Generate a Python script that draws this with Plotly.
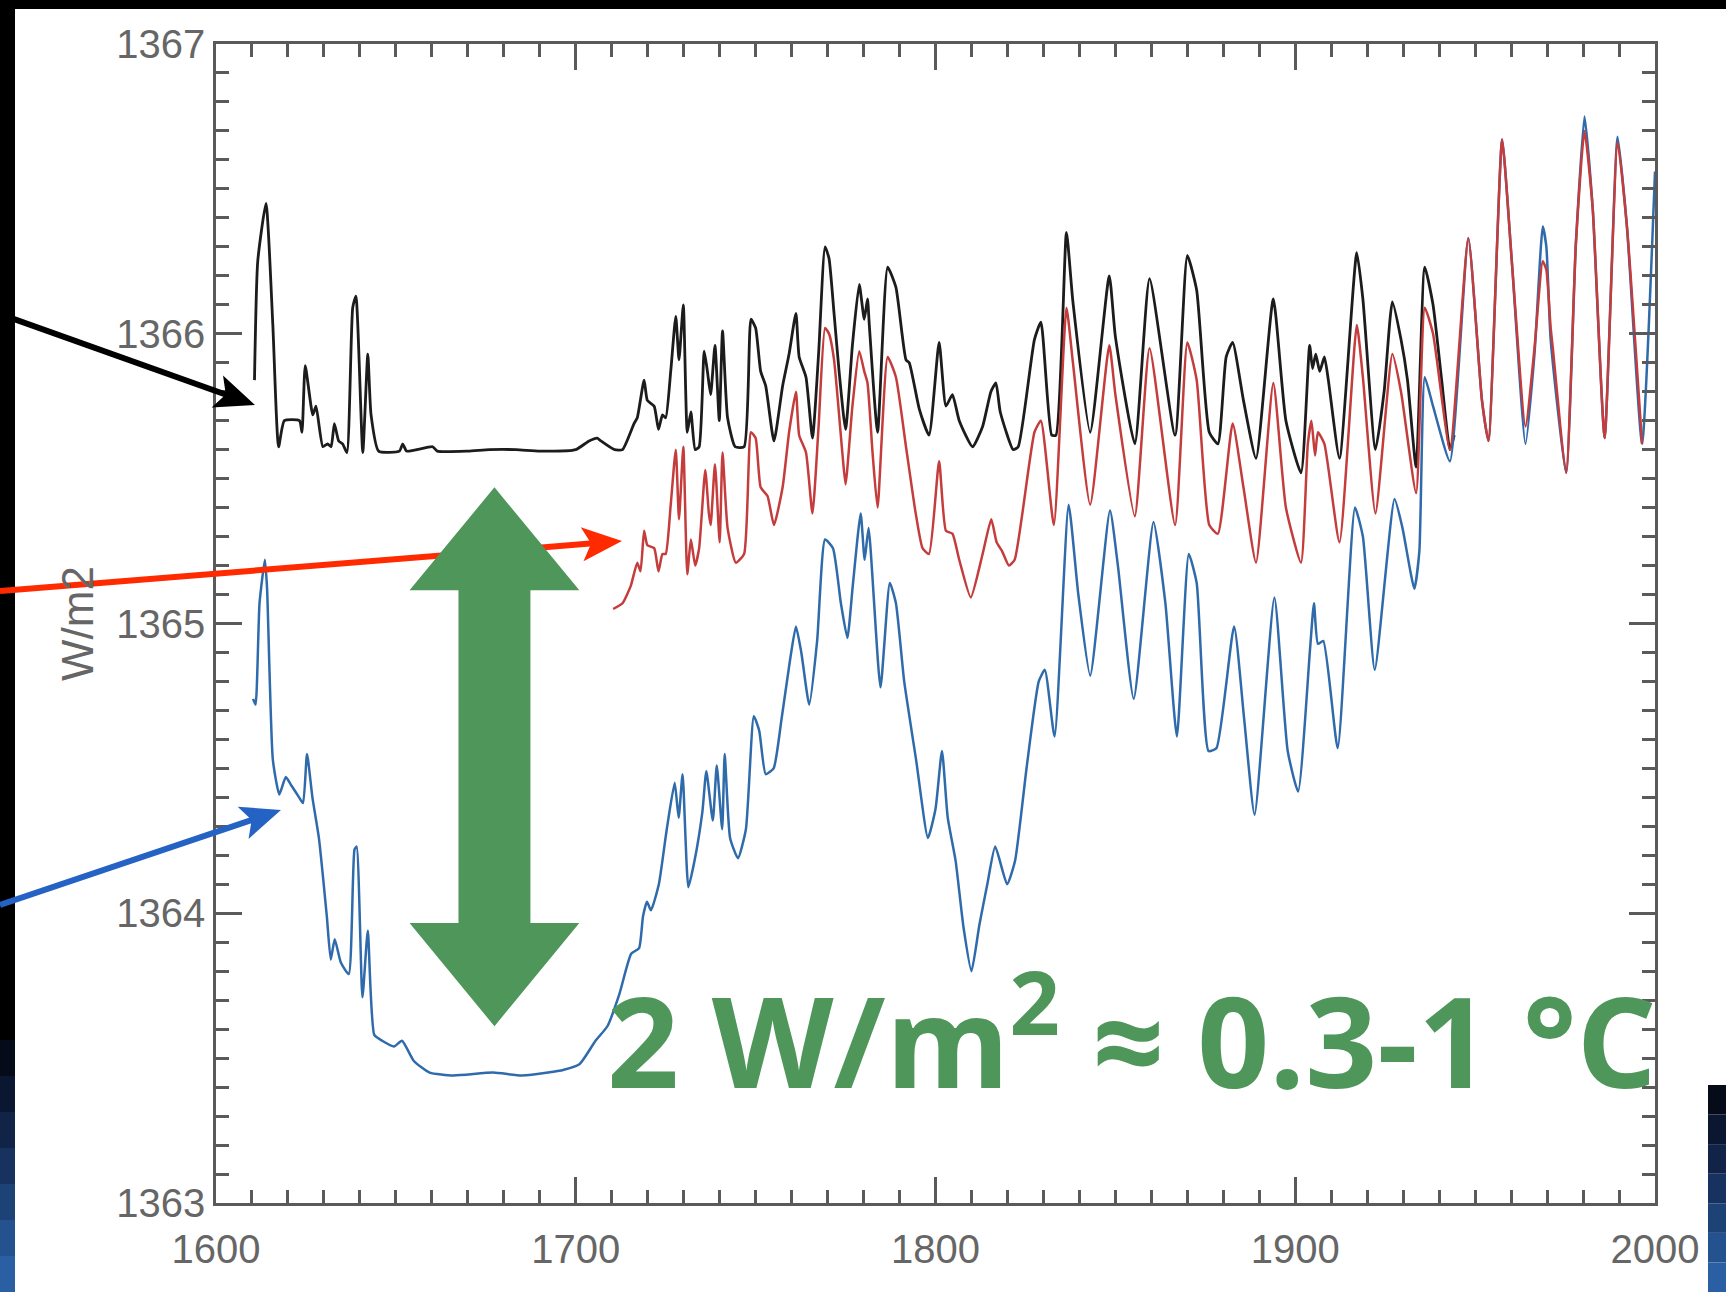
import math
import plotly.graph_objects as go

# ---------------- data ----------------
black_years = [1610.7, 1611.6, 1613.9, 1615.8, 1617.4, 1619.0, 1623.2, 1623.9, 1624.8, 1626.9,
               1627.8, 1629.7, 1631.0, 1632.0, 1632.9, 1634.1, 1635.2, 1636.4, 1638.0, 1638.9,
               1640.8, 1642.2, 1643.1, 1645.2, 1651.0, 1651.9, 1653.0, 1660.2, 1661.5, 1670.0,
               1676.0, 1683.4, 1690.0, 1700.0, 1703.7, 1706.0, 1707.0, 1710.8, 1713.0, 1716.2,
               1717.1, 1719.0, 1719.9, 1721.8, 1723.0, 1724.1, 1725.0, 1726.4, 1727.8, 1728.7,
               1729.9, 1731.0, 1732.0, 1733.2, 1734.3, 1735.7, 1736.6, 1737.5, 1738.7, 1739.9,
               1740.8, 1742.2, 1744.3, 1746.8, 1748.7, 1750.0, 1751.4, 1752.8, 1755.1, 1757.5,
               1759.3, 1761.2, 1762.1, 1764.0, 1765.8, 1767.5, 1769.3, 1770.4, 1771.8, 1773.2,
               1775.0, 1776.9, 1778.8, 1780.2, 1781.1, 1781.6, 1783.9, 1786.7, 1789.0, 1791.8,
               1792.7, 1795.5, 1798.2, 1801.0, 1802.9, 1804.7, 1806.6, 1810.3, 1813.1, 1815.4,
               1816.8, 1818.0, 1821.6, 1823.0, 1827.5, 1829.3, 1832.3, 1833.5, 1836.4, 1838.2,
               1843.0, 1848.3, 1850.0, 1855.4, 1859.5, 1866.6, 1870.0, 1872.6, 1876.1, 1878.5,
               1880.8, 1882.6, 1885.6, 1889.1, 1893.9, 1897.4, 1901.6, 1904.0, 1904.8, 1905.7,
               1906.8, 1908.1, 1909.2, 1912.3, 1917.1, 1918.8, 1922.3, 1924.7, 1927.0, 1929.4,
               1931.2, 1933.6, 1936.0, 1938.3, 1940.7, 1943.0, 1944.2]
black_vals = [1365.84, 1366.25, 1366.45, 1366.03, 1365.61, 1365.70, 1365.70, 1365.66, 1365.89, 1365.72,
              1365.75, 1365.61, 1365.62, 1365.61, 1365.69, 1365.63, 1365.62, 1365.59, 1366.09, 1366.13,
              1365.59, 1365.93, 1365.72, 1365.595, 1365.595, 1365.62, 1365.595, 1365.61, 1365.595, 1365.595,
              1365.60, 1365.60, 1365.595, 1365.60, 1365.63, 1365.64, 1365.63, 1365.60, 1365.60, 1365.69,
              1365.71, 1365.84, 1365.77, 1365.75, 1365.67, 1365.72, 1365.71, 1365.87, 1366.06, 1365.91,
              1366.10, 1365.66, 1365.73, 1365.60, 1365.61, 1365.94, 1365.87, 1365.79, 1365.96, 1365.70,
              1366.01, 1365.71, 1365.61, 1365.61, 1366.05, 1366.02, 1365.87, 1365.82, 1365.63, 1365.82,
              1365.93, 1366.07, 1365.92, 1365.85, 1365.64, 1365.93, 1366.30, 1366.26, 1366.07, 1365.87,
              1365.67, 1365.96, 1366.17, 1366.05, 1366.12, 1366.03, 1365.66, 1366.23, 1366.16, 1365.91,
              1365.90, 1365.74, 1365.65, 1365.97, 1365.75, 1365.79, 1365.70, 1365.61, 1365.68, 1365.80,
              1365.83, 1365.73, 1365.60, 1365.61, 1365.98, 1366.04, 1365.65, 1365.65, 1366.35, 1366.11,
              1365.66, 1366.20, 1365.99, 1365.62, 1366.19, 1365.65, 1366.27, 1366.15, 1365.66, 1365.62,
              1365.92, 1365.97, 1365.77, 1365.57, 1366.12, 1365.70, 1365.52, 1365.96, 1365.88, 1365.93,
              1365.87, 1365.92, 1365.84, 1365.57, 1366.28, 1366.12, 1365.60, 1365.80, 1366.11, 1365.98,
              1365.84, 1365.54, 1366.23, 1366.10, 1365.84, 1365.60, 1365.65]

red_years = [1710.4, 1713.0, 1715.3, 1717.1, 1718.0, 1719.0, 1719.9, 1721.8, 1723.0, 1724.1,
             1725.0, 1726.4, 1727.8, 1728.7, 1729.9, 1731.0, 1732.0, 1733.2, 1734.3, 1736.0,
             1737.0, 1737.5, 1738.7, 1740.0, 1740.8, 1742.2, 1744.5, 1746.8, 1748.7, 1750.0,
             1751.4, 1753.3, 1755.1, 1757.5, 1759.3, 1761.2, 1762.1, 1764.0, 1765.8, 1767.5,
             1769.3, 1770.4, 1771.8, 1774.1, 1775.0, 1776.9, 1778.8, 1780.2, 1781.1, 1782.5,
             1783.9, 1786.7, 1789.0, 1791.8, 1794.5, 1796.4, 1798.2, 1801.0, 1802.9, 1804.7,
             1806.6, 1809.8, 1813.1, 1815.5, 1817.0, 1818.5, 1820.4, 1822.0, 1827.5, 1829.3,
             1832.9, 1836.4, 1838.2, 1843.0, 1848.3, 1850.0, 1855.4, 1859.5, 1866.6, 1870.0,
             1872.6, 1876.1, 1878.5, 1882.6, 1885.6, 1889.1, 1893.9, 1897.4, 1901.6, 1903.5,
             1904.5, 1905.5, 1906.3, 1908.1, 1912.3, 1917.1, 1918.8, 1922.3, 1927.0, 1929.4,
             1933.6, 1936.0, 1938.3, 1943.0, 1948.1, 1951.9, 1953.7, 1957.5, 1960.2, 1964.0,
             1966.5, 1968.8, 1969.8, 1971.0, 1971.6, 1975.3, 1978.0, 1980.4, 1982.7, 1986.0,
             1989.6, 1992.2, 1996.4]
red_vals = [1365.05, 1365.07, 1365.13, 1365.21, 1365.18, 1365.32, 1365.27, 1365.26, 1365.18, 1365.24,
            1365.24, 1365.41, 1365.60, 1365.36, 1365.61, 1365.17, 1365.29, 1365.20, 1365.26, 1365.53,
            1365.38, 1365.34, 1365.55, 1365.28, 1365.59, 1365.33, 1365.21, 1365.24, 1365.66, 1365.64,
            1365.47, 1365.44, 1365.34, 1365.47, 1365.66, 1365.80, 1365.65, 1365.59, 1365.38, 1365.68,
            1366.02, 1366.00, 1365.91, 1365.59, 1365.48, 1365.75, 1365.94, 1365.87, 1365.83, 1365.59,
            1365.40, 1365.92, 1365.85, 1365.61, 1365.38, 1365.26, 1365.24, 1365.56, 1365.32, 1365.31,
            1365.22, 1365.09, 1365.24, 1365.36, 1365.28, 1365.25, 1365.20, 1365.22, 1365.66, 1365.70,
            1365.34, 1366.09, 1365.90, 1365.41, 1365.96, 1365.79, 1365.37, 1365.95, 1365.34, 1365.97,
            1365.84, 1365.34, 1365.31, 1365.69, 1365.47, 1365.21, 1365.83, 1365.40, 1365.21, 1365.62,
            1365.70, 1365.58, 1365.66, 1365.62, 1365.28, 1366.03, 1365.85, 1365.38, 1365.93, 1365.80,
            1365.45, 1366.09, 1366.00, 1365.60, 1366.33, 1365.77, 1365.63, 1366.67, 1366.25, 1365.68,
            1365.95, 1366.25, 1366.22, 1366.02, 1365.95, 1365.52, 1366.31, 1366.70, 1366.43, 1365.64,
            1366.66, 1366.37, 1365.62]

blue_years = [1610.3, 1611.0, 1612.1, 1613.6, 1614.2, 1615.8, 1617.6, 1619.4, 1621.0, 1623.1,
              1624.2, 1625.3, 1626.8, 1628.6, 1630.8, 1631.9, 1633.0, 1634.7, 1636.9, 1638.5,
              1639.1, 1640.7, 1642.2, 1644.0, 1646.2, 1649.5, 1651.7, 1655.0, 1659.4, 1666.0,
              1677.0, 1685.0, 1692.3, 1696.7, 1701.1, 1705.5, 1708.8, 1712.1, 1715.4, 1717.6,
              1718.7, 1719.8, 1720.9, 1723.1, 1725.3, 1727.5, 1728.6, 1729.7, 1731.3, 1733.0,
              1735.2, 1736.3, 1738.1, 1739.2, 1740.7, 1741.4, 1742.9, 1745.1, 1747.3, 1749.5,
              1751.0, 1752.8, 1755.0, 1757.2, 1759.4, 1761.2, 1762.7, 1764.9, 1767.1, 1769.3,
              1771.5, 1773.7, 1775.5, 1777.0, 1779.2, 1780.3, 1781.4, 1784.7, 1787.3, 1789.0,
              1791.3, 1794.6, 1797.9, 1800.0, 1801.8, 1803.4, 1805.6, 1807.8, 1810.0, 1812.2,
              1814.4, 1816.6, 1819.9, 1822.1, 1825.4, 1828.7, 1830.4, 1833.1, 1837.0, 1839.7,
              1843.0, 1848.5, 1850.7, 1855.1, 1860.6, 1863.9, 1867.1, 1870.4, 1872.6, 1875.9,
              1878.1, 1883.0, 1885.8, 1888.7, 1894.2, 1897.9, 1900.8, 1904.1, 1905.2, 1906.3,
              1907.8, 1911.8, 1916.6, 1918.8, 1922.1, 1927.6, 1929.8, 1933.1, 1934.5, 1936.0,
              1938.3, 1943.0, 1948.1, 1951.9, 1953.7, 1957.5, 1960.2, 1964.0, 1966.5, 1968.8,
              1969.8, 1971.0, 1975.3, 1978.0, 1980.4, 1982.7, 1986.0, 1989.6, 1992.2, 1996.4,
              2000.0]
blue_vals = [1364.74, 1364.72, 1365.07, 1365.22, 1365.12, 1364.53, 1364.41, 1364.47, 1364.44, 1364.40,
             1364.38, 1364.55, 1364.40, 1364.26, 1363.99, 1363.84, 1363.91, 1363.83, 1363.79, 1364.22,
             1364.23, 1363.71, 1363.94, 1363.58, 1363.56, 1363.54, 1363.56, 1363.49, 1363.45, 1363.44,
             1363.45, 1363.44, 1363.45, 1363.46, 1363.48, 1363.56, 1363.61, 1363.72, 1363.86, 1363.88,
             1363.99, 1364.04, 1364.01, 1364.10, 1364.29, 1364.45, 1364.33, 1364.48, 1364.09, 1364.18,
             1364.35, 1364.49, 1364.32, 1364.51, 1364.29, 1364.55, 1364.26, 1364.19, 1364.29, 1364.68,
             1364.63, 1364.48, 1364.50, 1364.67, 1364.86, 1364.99, 1364.90, 1364.72, 1364.94, 1365.29,
             1365.26, 1365.07, 1364.95, 1365.13, 1365.38, 1365.22, 1365.33, 1364.78, 1365.14, 1365.07,
             1364.80, 1364.53, 1364.26, 1364.36, 1364.56, 1364.33, 1364.18, 1363.95, 1363.80, 1363.96,
             1364.10, 1364.23, 1364.10, 1364.18, 1364.51, 1364.80, 1364.84, 1364.61, 1365.41, 1365.10,
             1364.82, 1365.39, 1365.20, 1364.74, 1365.35, 1365.07, 1364.61, 1365.24, 1365.14, 1364.56,
             1364.57, 1364.99, 1364.67, 1364.34, 1365.09, 1364.56, 1364.42, 1364.91, 1365.07, 1364.93,
             1364.94, 1364.57, 1365.40, 1365.30, 1364.84, 1365.43, 1365.33, 1365.12, 1365.25, 1365.85,
             1365.75, 1365.56, 1366.33, 1365.77, 1365.63, 1366.67, 1366.25, 1365.62, 1365.93, 1366.37,
             1366.30, 1365.98, 1365.52, 1366.31, 1366.75, 1366.43, 1365.64, 1366.68, 1366.37, 1365.62,
             1366.56]

x_ticks = [1600, 1700, 1800, 1900, 2000]
y_ticks = [1363, 1364, 1365, 1366, 1367]
y_title = "W/m2"
claim_text = "2 W/m<sup>2</sup> ≈ 0.3-1 °C"

# ---------------- layout geometry ----------------
W, H = 1726, 1292
ML, MR, MT, MB = 216, 71, 44, 89
PW = W - ML - MR
PH = H - MT - MB
AXC = "#5a5a5a"
GREEN = "#4F965B"


def pp(px, py):
    return (px - ML) / PW, (H - MB - py) / PH


def arrow(tail, tip, color, width=6, head_len=40, head_half=17, notch=9):
    tx, ty = tail
    hx, hy = tip
    dx, dy = hx - tx, hy - ty
    L = math.hypot(dx, dy)
    ux, uy = dx / L, dy / L
    nx, ny = -uy, ux
    bx, by = hx - (head_len - notch) * ux, hy - (head_len - notch) * uy
    p1 = (hx - head_len * ux + head_half * nx, hy - head_len * uy + head_half * ny)
    p2 = (hx - head_len * ux - head_half * nx, hy - head_len * uy - head_half * ny)
    x0, y0 = pp(tx, ty)
    x1, y1 = pp(bx + 2 * ux, by + 2 * uy)
    pts = [pp(hx, hy), pp(*p1), pp(bx, by), pp(*p2)]
    path = "M " + " L ".join(f"{a:.5f},{b:.5f}" for a, b in pts) + " Z"
    return [
        dict(type="line", xref="paper", yref="paper", x0=x0, y0=y0, x1=x1, y1=y1,
             line=dict(color=color, width=width), layer="above"),
        dict(type="path", xref="paper", yref="paper", path=path, fillcolor=color,
             line=dict(width=0), layer="above"),
    ]


shapes = []
# white slide area over black background
x0, y0 = pp(15, 9)
x1, y1 = pp(W, H)
shapes.append(dict(type="rect", xref="paper", yref="paper", x0=x0, y0=y0, x1=x1, y1=y1,
                   fillcolor="white", line=dict(width=0), layer="below"))
# bluish gradient strips at the lower corners of the slide
grad = ["#060b1a", "#0b1630", "#112447", "#17325e", "#1d4276", "#24528f", "#2b5fa3"]
n = len(grad)
for i, c in enumerate(grad):
    ya = 1040 + (H - 1040) * i / n
    yb = 1040 + (H - 1040) * (i + 1) / n
    a0, b0 = pp(0, ya)
    a1, b1 = pp(15, yb)
    shapes.append(dict(type="rect", xref="paper", yref="paper", x0=a0, y0=b0, x1=a1, y1=b1,
                       fillcolor=c, line=dict(width=0), layer="below"))
    ya = 1085 + (H - 1085) * i / n
    yb = 1085 + (H - 1085) * (i + 1) / n
    a0, b0 = pp(1708, ya)
    a1, b1 = pp(W, yb)
    shapes.append(dict(type="rect", xref="paper", yref="paper", x0=a0, y0=b0, x1=a1, y1=b1,
                       fillcolor=c, line=dict(width=0), layer="below"))

shapes += arrow((0, 314), (255, 405), "#000000")
shapes += arrow((0, 591), (622, 541), "#FF2A00")
shapes += arrow((0, 905), (281, 810), "#2462C4")

# green double arrow (data coordinates)
cx, sh, hh = 1677.4, 10.0, 23.6
ytop, ybt, ybb, ybot = 1365.47, 1365.115, 1363.966, 1363.61
g_path = (f"M {cx},{ytop} L {cx+hh},{ybt} L {cx+sh},{ybt} L {cx+sh},{ybb} L {cx+hh},{ybb} "
          f"L {cx},{ybot} L {cx-hh},{ybb} L {cx-sh},{ybb} L {cx-sh},{ybt} L {cx-hh},{ybt} Z")
shapes.append(dict(type="path", xref="x", yref="y", path=g_path, fillcolor=GREEN,
                   line=dict(width=0), layer="above"))

fig = go.Figure()
fig.add_trace(go.Scatter(x=black_years, y=black_vals, mode="lines",
                         line=dict(color="#1c1c1c", width=2.8, shape="spline", smoothing=0.5),
                         hoverinfo="skip"))
fig.add_trace(go.Scatter(x=blue_years, y=blue_vals, mode="lines",
                         line=dict(color="#2f6aab", width=2.5, shape="spline", smoothing=0.5),
                         hoverinfo="skip"))
fig.add_trace(go.Scatter(x=red_years, y=red_vals, mode="lines",
                         line=dict(color="#c43c3c", width=2.5, shape="spline", smoothing=0.5),
                         hoverinfo="skip"))

tickfont = dict(family="Liberation Sans, Arial, sans-serif", size=40, color="#666666")
fig.update_layout(
    width=W, height=H,
    margin=dict(l=ML, r=MR, t=MT, b=MB, pad=0),
    paper_bgcolor="black", plot_bgcolor="white",
    showlegend=False,
    shapes=shapes,
    xaxis=dict(range=[1600, 2000], tickvals=x_ticks, ticktext=[str(v) for v in x_ticks],
               showline=True, linecolor=AXC, linewidth=2.5, mirror="allticks",
               ticks="inside", ticklen=26, tickwidth=2.5, tickcolor=AXC,
               minor=dict(dtick=10, ticklen=13, tickwidth=2.5, tickcolor=AXC, ticks="inside", showgrid=False),
               showgrid=False, zeroline=False, tickfont=tickfont, ticklabelstandoff=9),
    yaxis=dict(range=[1363, 1367], tickvals=y_ticks, ticktext=[str(v) for v in y_ticks],
               showline=True, linecolor=AXC, linewidth=2.5, mirror="allticks",
               ticks="inside", ticklen=26, tickwidth=2.5, tickcolor=AXC,
               minor=dict(dtick=0.1, tick0=1363, ticklen=13, tickwidth=2.5, tickcolor=AXC, ticks="inside", showgrid=False),
               showgrid=False, zeroline=False, tickfont=tickfont, ticklabelstandoff=0),
    annotations=[
        dict(xref="paper", yref="paper", x=pp(77, 624)[0], y=pp(77, 624)[1], text=y_title,
             textangle=-90, showarrow=False, xanchor="center", yanchor="middle",
             font=dict(family="Liberation Sans, Arial, sans-serif", size=44, color="#666666")),
        dict(xref="paper", yref="paper", x=pp(605, 1127)[0], y=pp(605, 1127)[1], text=claim_text,
             showarrow=False, xanchor="left", yanchor="bottom",
             font=dict(family="Open Sans, sans-serif", size=126, color=GREEN, weight="bold")),
    ],
)

fig.write_html("out.html")
